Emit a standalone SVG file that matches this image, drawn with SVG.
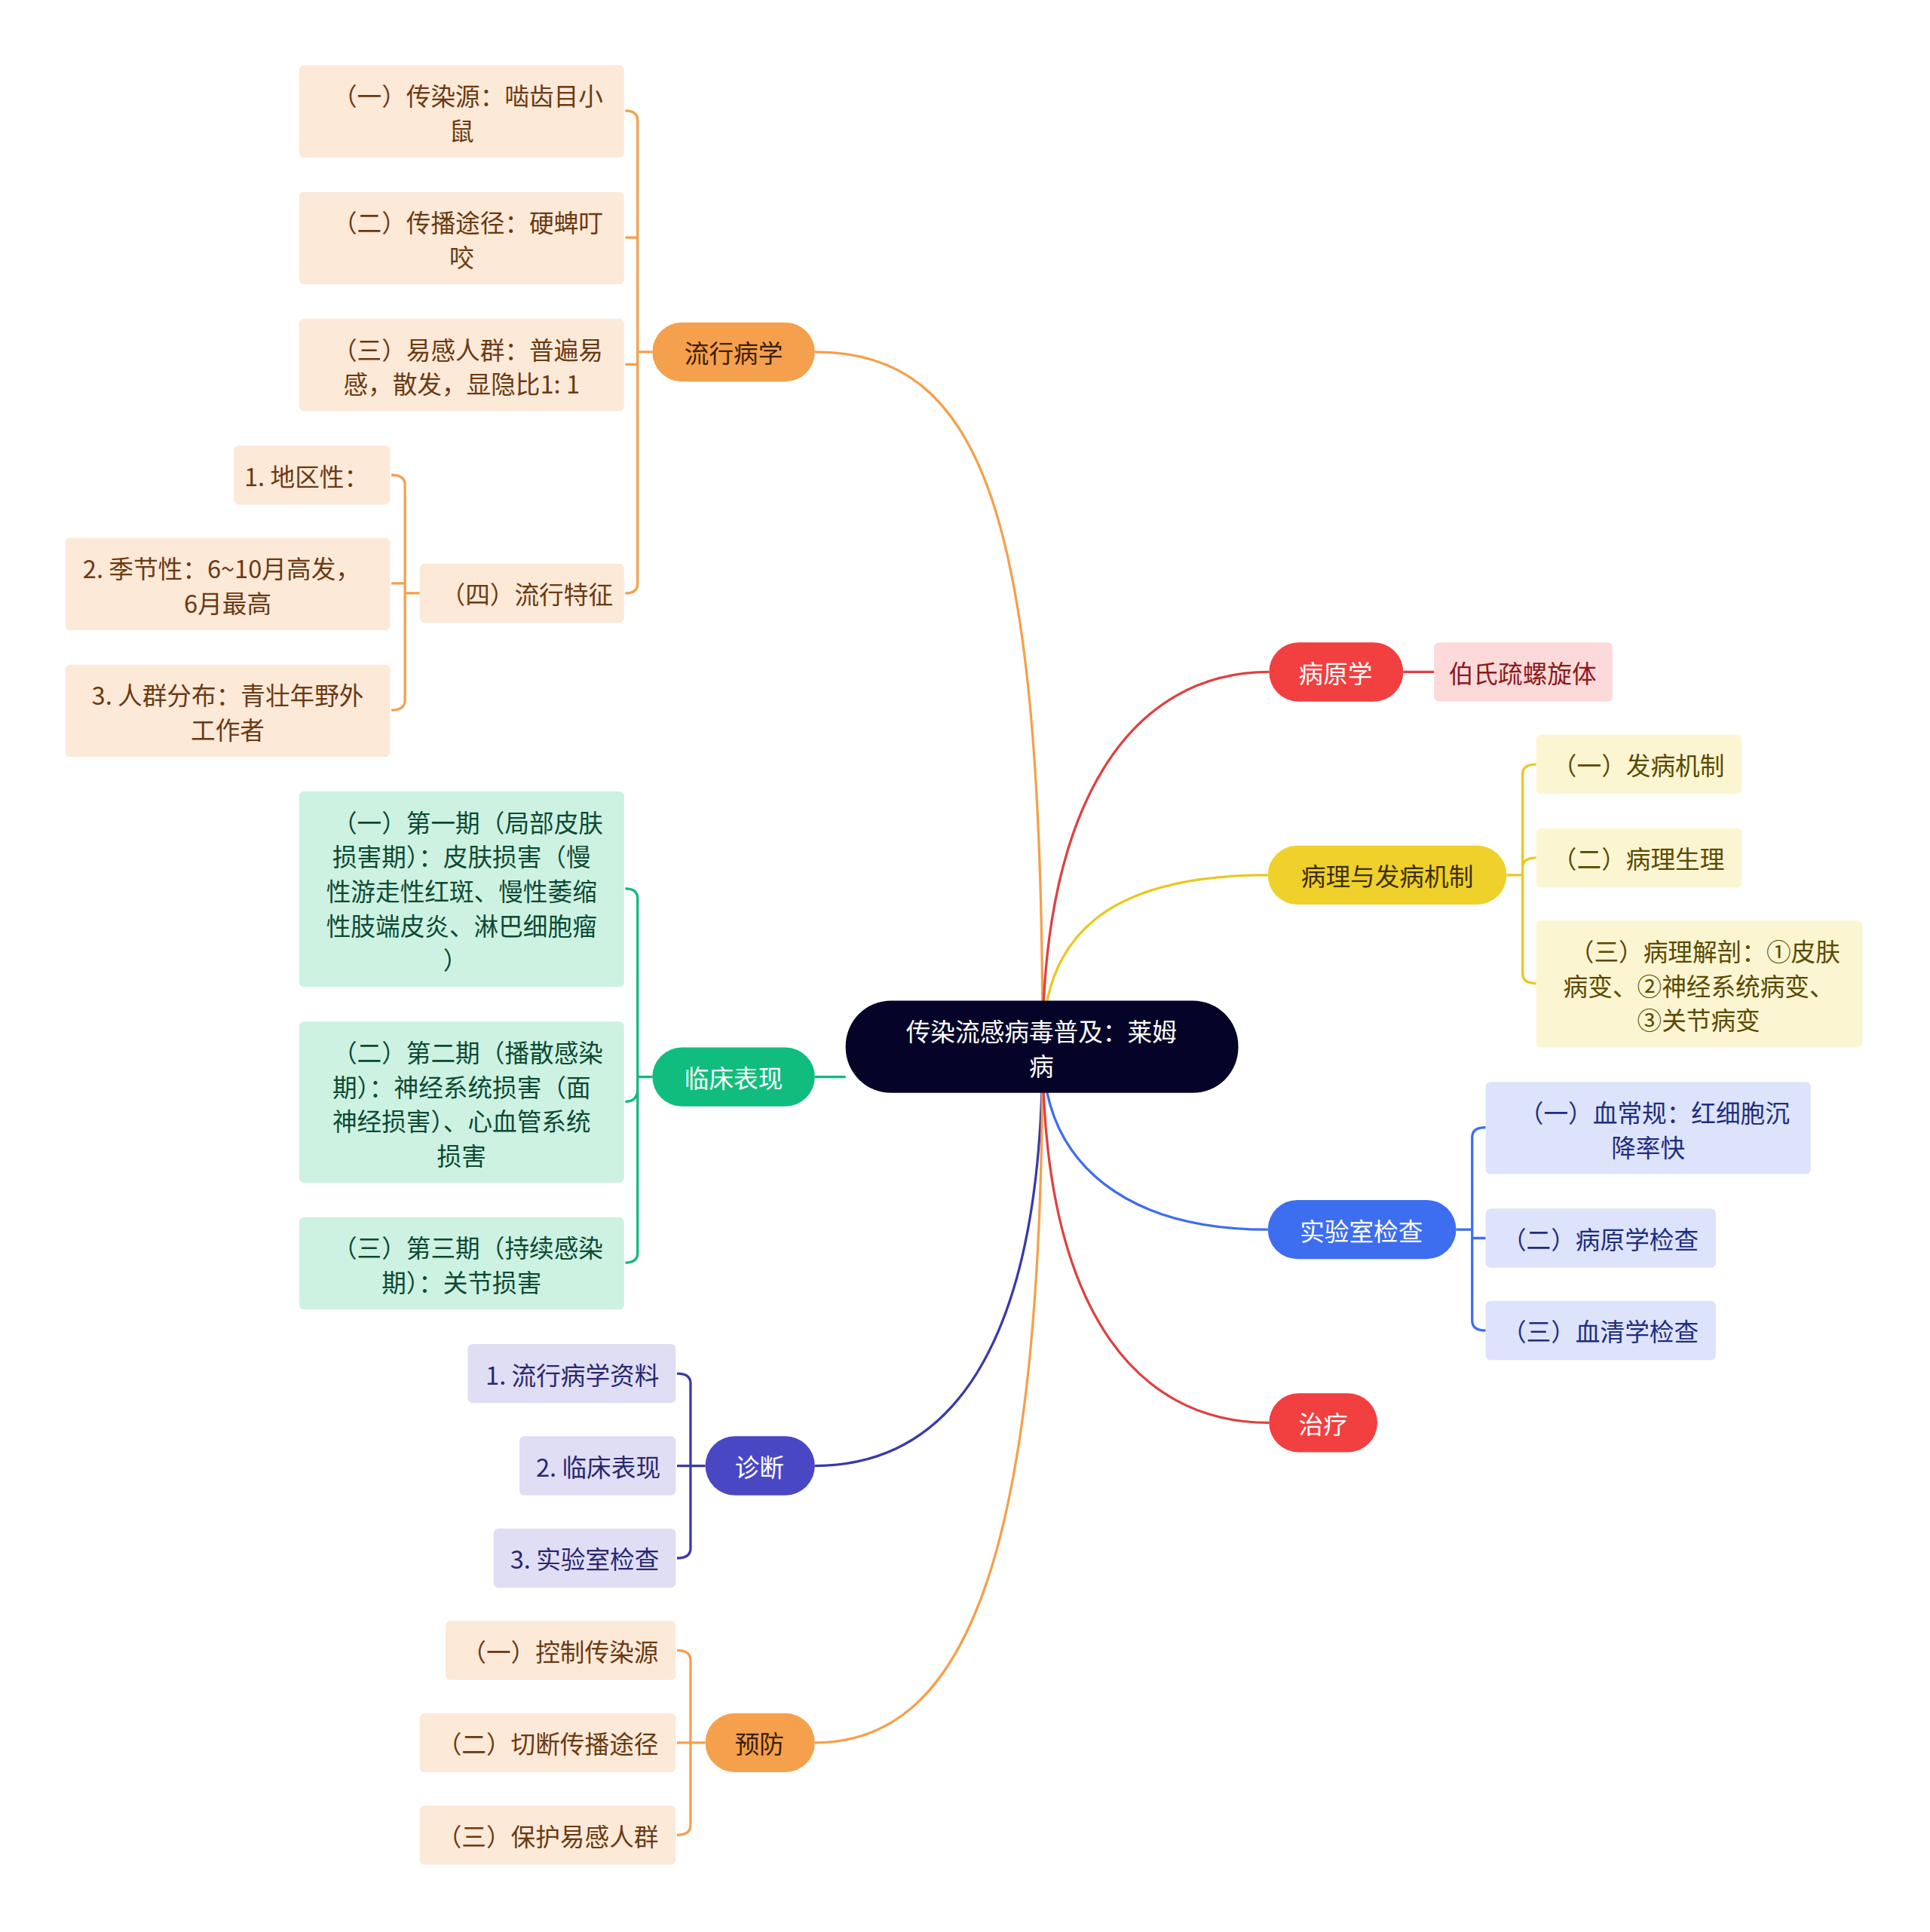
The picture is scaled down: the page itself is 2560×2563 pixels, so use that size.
<svg xmlns="http://www.w3.org/2000/svg" width="2560" height="2563" viewBox="0 0 2560 2563">
<style>
text{font-family:"Noto Sans CJK SC","Noto Sans",sans-serif;font-size:20px;text-anchor:middle;dominant-baseline:central}
.c{fill:none;stroke-width:2}
.w{fill:#fff}
.or{fill:#f5a04d}.orl{fill:#fde9d8}.ort{fill:#6b3a12}
.gr{fill:#10bd7e}.grl{fill:#cdf2e2}.grt{fill:#0d4a33}
.pu{fill:#4a47c4}.pul{fill:#e0def5}.put{fill:#2a2870}
.rd{fill:#f23f3f}.rdl{fill:#fddada}.rdt{fill:#8b1a1a}
.ye{fill:#f0d02a}.yel{fill:#fcf5d2}.yet{fill:#5a4a00}
.bl{fill:#3d6ef0}.bll{fill:#dde3fb}.blt{fill:#1e2e80}
</style>
<rect width="2560" height="2563" fill="#fff"/>
<g transform="scale(1.6327)">
<g id="connectors">
<path class="c" stroke="#f4a04a" d="M847,851 C847,420 800,286 662,286"/>
<path class="c" stroke="#10b981" d="M687,875 H662"/>
<path class="c" stroke="#3b39a8" d="M847,851 C847,1080 780,1191 662,1191"/>
<path class="c" stroke="#f4a04a" d="M847,851 C847,1250 790,1416 662,1416"/>
<path class="c" stroke="#e04040" d="M847,851 C847,650 920,546 1031,546"/>
<path class="c" stroke="#e8c820" d="M847,851 C847,760 900,711 1030,711"/>
<path class="c" stroke="#3d6ef0" d="M847,851 C847,950 920,999 1030,999"/>
<path class="c" stroke="#e04040" d="M847,851 C847,1060 920,1156 1031,1156"/>
<path class="c" stroke="#e04040" d="M1140,546 H1165"/>
<g stroke="#f4a04a" class="c">
<path d="M530,286 H518 M518,286 V98 Q518,90 508,90 M518,193 Q518,193 508,193 M518,296 H508 M518,286 V474 Q518,482 508,482"/>
<path d="M341,482 H329 M329,482 V394 Q329,386 318,386 M329,474 H318 M329,482 V569 Q329,577 318,577"/>
<path d="M573,1416 H561 M561,1416 V1349 Q561,1341 550,1341 M561,1416 H550 M561,1416 V1483 Q561,1491 550,1491"/>
</g>
<g stroke="#10b981" class="c"><path d="M530,875 H518 M518,875 V730 Q518,722 508,722 M518,885 Q518,895 508,895 M518,875 V1018 Q518,1026 508,1026"/></g>
<g stroke="#3b39a8" class="c"><path d="M573,1191 H561 M561,1191 V1124 Q561,1116 550,1116 M561,1191 H550 M561,1191 V1258 Q561,1266 550,1266"/></g>
<g stroke="#e8c820" class="c"><path d="M1224,711 H1237 M1237,711 V629 Q1237,621 1248,621 M1237,705 Q1237,697 1248,697 M1237,711 V791 Q1237,799 1248,799"/></g>
<g stroke="#3d6ef0" class="c"><path d="M1183,999 H1196 M1196,999 V924 Q1196,916 1207,916 M1196,999 V1006 H1207 M1196,999 V1073 Q1196,1081 1207,1081"/></g>
</g>
<g id="root"><rect x="687" y="813" width="319" height="75" rx="37" fill="#050428"/><text class="w" x="846" y="837">传染流感病毒普及：莱姆</text><text class="w" x="846" y="865">病</text></g>
<g id="n1"><rect x="530" y="262" width="132" height="48" rx="24" class="or"/><text x="596" y="286" fill="#3a2000">流行病学</text></g>
<g id="n1a"><rect x="243" y="53" width="264" height="75" rx="4" class="orl"/><text class="ort" x="380" y="77">（一）传染源：啮齿目小</text><text class="ort" x="375" y="105">鼠</text></g>
<g id="n1b"><rect x="243" y="156" width="264" height="75" rx="4" class="orl"/><text class="ort" x="380" y="180">（二）传播途径：硬蜱叮</text><text class="ort" x="375" y="208">咬</text></g>
<g id="n1c"><rect x="243" y="259" width="264" height="75" rx="4" class="orl"/><text class="ort" x="380" y="283">（三）易感人群：普遍易</text><text class="ort" x="375" y="311">感，散发，显隐比1: 1</text></g>
<g id="n1d"><rect x="341" y="458" width="166" height="48" rx="4" class="orl"/><text class="ort" x="428" y="482">（四）流行特征</text></g>
<g id="n1d1"><rect x="190" y="362" width="127" height="48" rx="4" class="orl"/><text class="ort" x="249" y="386">1. 地区性：</text></g>
<g id="n1d2"><rect x="53" y="437" width="264" height="75" rx="4" class="orl"/><text class="ort" x="180" y="461">2. 季节性：6~10月高发，</text><text class="ort" x="185" y="489">6月最高</text></g>
<g id="n1d3"><rect x="53" y="540" width="264" height="75" rx="4" class="orl"/><text class="ort" x="185" y="564">3. 人群分布：青壮年野外</text><text class="ort" x="185" y="592">工作者</text></g>
<g id="n2"><rect x="530" y="851" width="132" height="48" rx="24" class="gr"/><text class="w" x="596" y="875">临床表现</text></g>
<g id="n2a"><rect x="243" y="643" width="264" height="159" rx="4" class="grl"/><text class="grt" x="380" y="667">（一）第一期（局部皮肤</text><text class="grt" x="375" y="695">损害期）：皮肤损害（慢</text><text class="grt" x="375" y="723">性游走性红斑、慢性萎缩</text><text class="grt" x="375" y="751">性肢端皮炎、淋巴细胞瘤</text><text class="grt" x="370" y="779">）</text></g>
<g id="n2b"><rect x="243" y="830" width="264" height="131" rx="4" class="grl"/><text class="grt" x="380" y="854">（二）第二期（播散感染</text><text class="grt" x="375" y="882">期）：神经系统损害（面</text><text class="grt" x="375" y="910">神经损害）、心血管系统</text><text class="grt" x="375" y="938">损害</text></g>
<g id="n2c"><rect x="243" y="989" width="264" height="75" rx="4" class="grl"/><text class="grt" x="380" y="1013">（三）第三期（持续感染</text><text class="grt" x="375" y="1041">期）：关节损害</text></g>
<g id="n3"><rect x="573" y="1167" width="89" height="48" rx="24" class="pu"/><text class="w" x="617" y="1191">诊断</text></g>
<g id="n3a"><rect x="380" y="1092" width="169" height="48" rx="4" class="pul"/><text class="put" x="465" y="1116">1. 流行病学资料</text></g>
<g id="n3b"><rect x="422" y="1167" width="127" height="48" rx="4" class="pul"/><text class="put" x="486" y="1191">2. 临床表现</text></g>
<g id="n3c"><rect x="401" y="1242" width="148" height="48" rx="4" class="pul"/><text class="put" x="475" y="1266">3. 实验室检查</text></g>
<g id="n4"><rect x="573" y="1392" width="89" height="48" rx="24" class="or"/><text x="617" y="1416" fill="#3a2000">预防</text></g>
<g id="n4a"><rect x="362" y="1317" width="187" height="48" rx="4" class="orl"/><text class="ort" x="455" y="1341">（一）控制传染源</text></g>
<g id="n4b"><rect x="341" y="1392" width="208" height="48" rx="4" class="orl"/><text class="ort" x="445" y="1416">（二）切断传播途径</text></g>
<g id="n4c"><rect x="341" y="1467" width="208" height="48" rx="4" class="orl"/><text class="ort" x="445" y="1491">（三）保护易感人群</text></g>
<g id="n5"><rect x="1031" y="522" width="109" height="48" rx="24" class="rd"/><text class="w" x="1085" y="546">病原学</text></g>
<g id="n5a"><rect x="1165" y="522" width="145" height="48" rx="4" class="rdl"/><text class="rdt" x="1237" y="546">伯氏疏螺旋体</text></g>
<g id="n6"><rect x="1030" y="687" width="194" height="48" rx="24" class="ye"/><text x="1127" y="711" fill="#3a3000">病理与发病机制</text></g>
<g id="n6a"><rect x="1248" y="597" width="167" height="48" rx="4" class="yel"/><text class="yet" x="1331" y="621">（一）发病机制</text></g>
<g id="n6b"><rect x="1248" y="673" width="167" height="48" rx="4" class="yel"/><text class="yet" x="1331" y="697">（二）病理生理</text></g>
<g id="n6c"><rect x="1248" y="748" width="265" height="103" rx="4" class="yel"/><text class="yet" x="1385" y="772">（三）病理解剖：①皮肤</text><text class="yet" x="1380" y="800">病变、②神经系统病变、</text><text class="yet" x="1380" y="828">③关节病变</text></g>
<g id="n7"><rect x="1030" y="975" width="153" height="48" rx="24" class="bl"/><text class="w" x="1106" y="999">实验室检查</text></g>
<g id="n7a"><rect x="1207" y="879" width="264" height="75" rx="4" class="bll"/><text class="blt" x="1344" y="903">（一）血常规：红细胞沉</text><text class="blt" x="1339" y="931">降率快</text></g>
<g id="n7b"><rect x="1207" y="982" width="187" height="48" rx="4" class="bll"/><text class="blt" x="1300" y="1006">（二）病原学检查</text></g>
<g id="n7c"><rect x="1207" y="1057" width="187" height="48" rx="4" class="bll"/><text class="blt" x="1300" y="1081">（三）血清学检查</text></g>
<g id="n8"><rect x="1031" y="1132" width="88" height="48" rx="24" class="rd"/><text class="w" x="1075" y="1156">治疗</text></g>
</g>
</svg>
